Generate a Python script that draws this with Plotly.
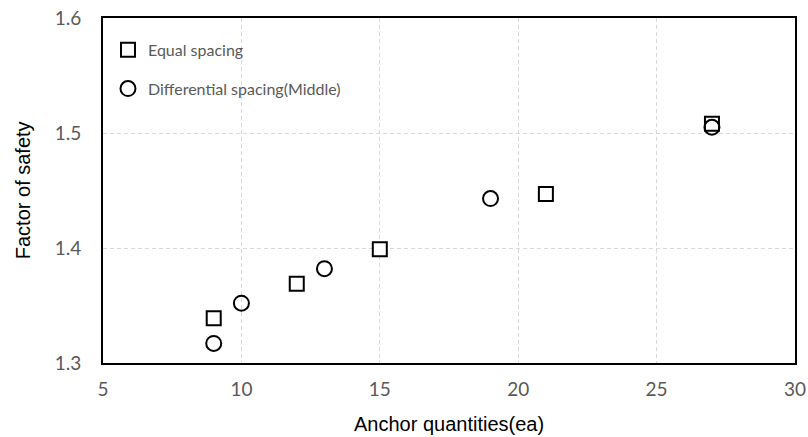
import plotly.graph_objects as go

eq_x = [9, 12, 15, 21, 27]
eq_y = [1.339, 1.369, 1.399, 1.447, 1.508]
diff_x = [9, 10, 13, 19, 27]
diff_y = [1.317, 1.352, 1.382, 1.443, 1.505]
x_ticks = [5, 10, 15, 20, 25, 30]
y_ticks = [1.3, 1.4, 1.5, 1.6]

TICKFONT = "Lato, Open Sans, sans-serif"
TITLEFONT = "Liberation Sans, Arial, sans-serif"

fig = go.Figure()
fig.add_trace(go.Scatter(x=eq_x, y=eq_y, mode="markers", name="Equal spacing", legendgroup="a",
                         marker=dict(symbol="square", size=14, color="white",
                                     line=dict(color="black", width=2))))
fig.add_trace(go.Scatter(x=diff_x, y=diff_y, mode="markers", name="Differential spacing(Middle)",
                         legendgroup="b",
                         marker=dict(symbol="circle", size=15, color="rgba(255,255,255,0)",
                                     line=dict(color="black", width=2))))

axis_common = dict(showline=True, linecolor="black", linewidth=2, mirror=True,
                   showgrid=True, gridcolor="#d9d9d9", griddash="4px,3px", gridwidth=1,
                   zeroline=False, ticks="", automargin=False,
                   tickfont=dict(family=TICKFONT, size=19, color="#595959"))

fig.update_layout(
    width=808, height=437,
    margin=dict(l=103, r=13, t=18, b=74),
    paper_bgcolor="white", plot_bgcolor="white",
    showlegend=True,
    legend=dict(x=0.0072, y=0.957, xanchor="left", yanchor="top",
                bgcolor="rgba(0,0,0,0)", borderwidth=0,
                font=dict(family="Lato, sans-serif", size=16, color="#595959"),
                itemwidth=30, tracegroupgap=15),
    xaxis=dict(range=[5, 30], tickmode="array", tickvals=x_ticks,
               ticktext=[str(v) for v in x_ticks], ticklabelstandoff=8, **axis_common),
    yaxis=dict(range=[1.3, 1.6], tickmode="array", tickvals=y_ticks,
               ticktext=[f"{v:.1f}" for v in y_ticks], ticklabelstandoff=16, **axis_common),
    annotations=[
        dict(text="Anchor quantities(ea)", xref="paper", yref="paper", x=0.5, y=-0.177,
             xanchor="center", yanchor="middle", showarrow=False,
             font=dict(family=TITLEFONT, size=20, color="black")),
        dict(text="Factor of safety", xref="paper", yref="paper", x=-0.116, y=0.5,
             xanchor="center", yanchor="middle", textangle=-90, showarrow=False,
             font=dict(family=TITLEFONT, size=20, color="black")),
    ],
)

fig.write_html("out.html", config={"displayModeBar": False},
               post_script="document.body.style.margin='0';document.body.style.overflow='hidden';")
